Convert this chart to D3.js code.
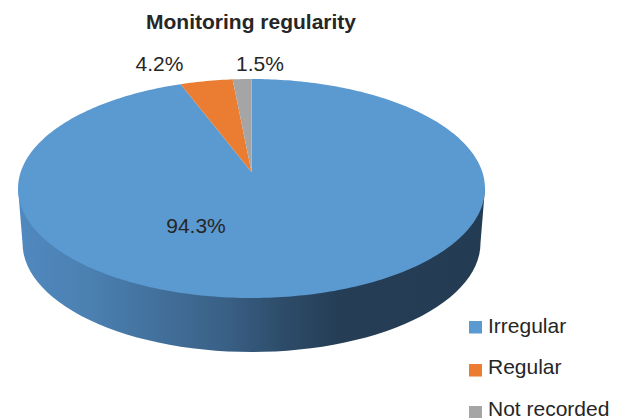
<!DOCTYPE html>
<html><head><meta charset="utf-8">
<script src="https://cdnjs.cloudflare.com/ajax/libs/d3/7.8.5/d3.min.js"></script>
<style>html,body{margin:0;padding:0;background:#fff}svg{display:block}text{font-family:"Liberation Sans",Arial,sans-serif;fill:#262626}</style>
</head><body><svg id="c" width="623" height="418"></svg>
<script>
const categories = ["Irregular", "Regular", "Not recorded"];
const values = [94.3, 4.2, 1.5];
const valueLabels = ["94.3%", "4.2%", "1.5%"];
const colors = ["#5b99d1", "#ea7d32", "#a5a5a5"];
const title = "Monitoring regularity";

const svg = d3.select("#c");
const apex = {x: 251.5, y: 172};
const k = -0.1507, A = 230.8, B = 107;
// perspective projection of the unit disc on to the tilted top face
const project = (a) => {
  const u = Math.sin(a), v = -Math.cos(a), w = 1 + k * v;
  return [apex.x + A * u / w, apex.y + B * v / w];
};
const arcs = d3.pie().sort(null).value(d => d)(values);
const line = d3.line();

// side wall
const grad = svg.append("defs").append("linearGradient").attr("id", "side")
  .attr("gradientUnits", "userSpaceOnUse").attr("x1", 20).attr("x2", 484).attr("y1", 0).attr("y2", 0);
[[0, "#5089bf"], [0.15, "#4b80b1"], [0.3, "#42709b"], [0.45, "#395f84"], [0.56, "#2e4d6b"], [0.68, "#253e56"], [1, "#243c53"]]
  .forEach(s => grad.append("stop").attr("offset", s[0]).attr("stop-color", s[1]));
const low = {cx: 251.5, cy: 243, rx: 229, ry: 109};
const sidePts = [[18, 188]].concat(
  d3.range(180, -1, -3).map(t => [low.cx + low.rx * Math.cos(t * Math.PI / 180), low.cy + low.ry * Math.sin(t * Math.PI / 180)]),
  [[485, 188]]);
svg.append("path").attr("d", line(sidePts) + "Z").attr("fill", "url(#side)");

// top face
svg.selectAll("path.slice").data(arcs).join("path").attr("class", "slice")
  .attr("fill", (d, i) => colors[i])
  .attr("d", d => {
    const n = Math.max(4, Math.ceil((d.endAngle - d.startAngle) * 60));
    const pts = d3.range(n + 1).map(i => project(d.startAngle + (d.endAngle - d.startAngle) * i / n));
    return line([[apex.x, apex.y], ...pts]) + "Z";
  });

// labels
svg.append("text").attr("x", 251).attr("y", 29).attr("text-anchor", "middle")
  .attr("font-size", 21).attr("font-weight", "bold").text(title);
const labelPos = [[196, 233], [159.5, 71], [260, 71]];
svg.selectAll("text.val").data(valueLabels).join("text").attr("class", "val")
  .attr("x", (d, i) => labelPos[i][0]).attr("y", (d, i) => labelPos[i][1])
  .attr("text-anchor", "middle").attr("font-size", 21).text(d => d);

// legend
const legendY = [333, 376, 418];
const lg = svg.selectAll("g.lg").data(categories).join("g").attr("class", "lg");
lg.append("rect").attr("x", 469).attr("y", (d, i) => legendY[i] - 12).attr("width", 13).attr("height", 12.5)
  .attr("fill", (d, i) => colors[i]);
lg.append("text").attr("x", 488).attr("y", (d, i) => [333, 374, 416][i]).attr("font-size", 21).text(d => d);
</script></body></html>
